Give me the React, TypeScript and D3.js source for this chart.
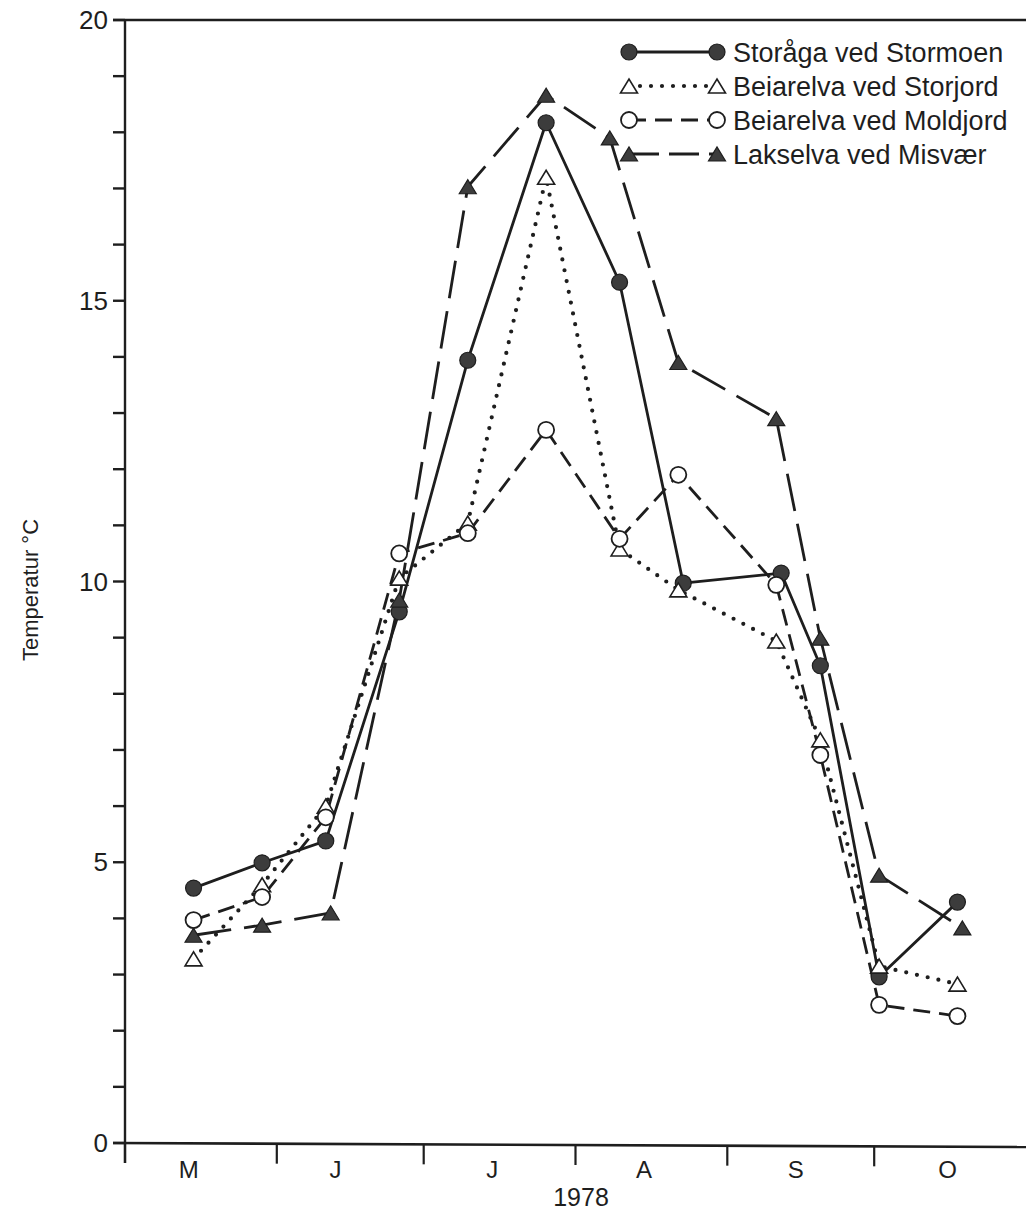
import React from "react";
import * as d3 from "d3";

const W = 1026;
const H = 1226;

const yTicks = d3.range(0, 21, 1);
const yLabels = [0, 5, 10, 15, 20];
const monthBounds = ["1978-05-01", "1978-06-01", "1978-07-01", "1978-08-01", "1978-09-01", "1978-10-01"];
const monthLabels = ["M", "J", "J", "A", "S", "O"];
const monthLabelDates = ["1978-05-14", "1978-06-13", "1978-07-15", "1978-08-15", "1978-09-15", "1978-10-16"];

const storagaDates = ["1978-05-15", "1978-05-29", "1978-06-11", "1978-06-26", "1978-07-10", "1978-07-26", "1978-08-10", "1978-08-23", "1978-09-12", "1978-09-20", "1978-10-02", "1978-10-18"];
const storagaValues = [4.54, 4.99, 5.38, 9.46, 13.94, 18.17, 15.33, 9.97, 10.15, 8.5, 2.96, 4.29];

const storjordDates = ["1978-05-15", "1978-05-29", "1978-06-11", "1978-06-26", "1978-07-10", "1978-07-26", "1978-08-10", "1978-08-22", "1978-09-11", "1978-09-20", "1978-10-02", "1978-10-18"];
const storjordValues = [3.28, 4.6, 6.0, 10.06, 11.04, 17.2, 10.58, 9.85, 8.94, 7.18, 3.15, 2.83];

const moldjordDates = ["1978-05-15", "1978-05-29", "1978-06-11", "1978-06-26", "1978-07-10", "1978-07-26", "1978-08-10", "1978-08-22", "1978-09-11", "1978-09-20", "1978-10-02", "1978-10-18"];
const moldjordValues = [3.97, 4.38, 5.8, 10.5, 10.86, 12.7, 10.76, 11.9, 9.94, 6.91, 2.46, 2.26];

const lakselvaDates = ["1978-05-15", "1978-05-29", "1978-06-12", "1978-06-26", "1978-07-10", "1978-07-26", "1978-08-08", "1978-08-22", "1978-09-11", "1978-09-20", "1978-10-02", "1978-10-19"];
const lakselvaValues = [3.7, 3.88, 4.1, 9.67, 17.03, 18.66, 17.9, 13.9, 12.9, 8.99, 4.77, 3.83];

const seriesNames = ["Storåga ved Stormoen", "Beiarelva ved Storjord", "Beiarelva ved Moldjord", "Lakselva ved Misvær"];

const INK = "#1e1e1e";
const FILL = "#3c3c3c";
const FONT = "'Liberation Sans', Arial, Helvetica, sans-serif";

type Style = { dash: string; width: number; cap: "round" | "butt"; marker: "fcircle" | "otri" | "ocircle" | "ftri" };
const styles: Style[] = [
  { dash: "none", width: 2.8, cap: "butt", marker: "fcircle" },
  { dash: "0 11", width: 4.2, cap: "round", marker: "otri" },
  { dash: "17 9", width: 2.8, cap: "butt", marker: "ocircle" },
  { dash: "38 13", width: 2.8, cap: "butt", marker: "ftri" },
];

const parse = d3.timeParse("%Y-%m-%d");

const x = d3.scaleTime().domain([parse("1978-05-01")!, parse("1978-11-01")!]).range([125, 1026]);
const y = d3.scaleLinear().domain([0, 20]).range([1143, 20]);

function Marker({ kind, cx, cy }: { kind: Style["marker"]; cx: number; cy: number }) {
  if (kind === "fcircle") return <circle cx={cx} cy={cy} r={8} fill={FILL} stroke={INK} strokeWidth={1.2} />;
  if (kind === "ocircle") return <circle cx={cx} cy={cy} r={8} fill="#fff" stroke={INK} strokeWidth={1.8} />;
  const s = 8.5;
  const h = 14;
  const pts = `${cx - s},${cy + h / 2} ${cx + s},${cy + h / 2} ${cx},${cy - h / 2}`;
  if (kind === "otri") return <polygon points={pts} fill="#fff" stroke={INK} strokeWidth={1.6} strokeLinejoin="miter" />;
  return <polygon points={pts} fill={FILL} stroke={INK} strokeWidth={1.2} />;
}

export default function App() {
  const allSeries = [
    { dates: storagaDates, values: storagaValues },
    { dates: storjordDates, values: storjordValues },
    { dates: moldjordDates, values: moldjordValues },
    { dates: lakselvaDates, values: lakselvaValues },
  ];
  const line = d3
    .line<{ d: Date; v: number }>()
    .x((p) => x(p.d))
    .y((p) => y(p.v));

  const legendRows = [52, 86, 120, 154];

  return (
    <svg
      width={W}
      height={H}
      style={{ position: "absolute", left: 0, top: 0, background: "#fff" }}
      fontFamily={FONT}
    >
      <rect x={0} y={0} width={W} height={H} fill="#fff" />
      {/* frame */}
      <line x1={113} x2={W} y1={y(20)} y2={y(20)} stroke={INK} strokeWidth={2.4} />
      <line x1={125} x2={125} y1={y(20)} y2={1163} stroke={INK} strokeWidth={2.4} />
      <line x1={113} x2={W} y1={y(0)} y2={y(0) + 4} stroke={INK} strokeWidth={2.6} />
      {/* y ticks */}
      {yTicks.map((t) => (
        <line key={t} x1={113} x2={125} y1={y(t)} y2={y(t)} stroke={INK} strokeWidth={2.4} />
      ))}
      {yLabels.map((t) => (
        <text key={t} x={108} y={y(t) + 9} textAnchor="end" fontSize={26} fill={INK}>
          {t}
        </text>
      ))}
      <text
        transform={`translate(38,590) rotate(-90)`}
        textAnchor="middle"
        fontSize={22}
        fill={INK}
      >
        Temperatur °C
      </text>
      {/* x ticks */}
      {monthBounds.map((m) => {
        const xx = x(parse(m)!);
        const yy = y(0) + (4 * (xx - 125)) / (W - 125);
        return <line key={m} x1={xx} x2={xx} y1={yy} y2={yy + 20} stroke={INK} strokeWidth={2.2} />;
      })}
      {monthLabels.map((lab, i) => (
        <text key={i} x={x(parse(monthLabelDates[i])!)} y={1178} textAnchor="middle" fontSize={24} fill={INK}>
          {lab}
        </text>
      ))}
      <text x={581} y={1206} textAnchor="middle" fontSize={25} fill={INK}>
        1978
      </text>
      {/* series lines */}
      {allSeries.map((s, i) => {
        const pts = s.dates.map((d, j) => ({ d: parse(d)!, v: s.values[j] }));
        const st = styles[i];
        return (
          <path
            key={"l" + i}
            d={line(pts) || ""}
            fill="none"
            stroke={INK}
            strokeWidth={st.width}
            strokeDasharray={st.dash}
            strokeLinecap={st.cap}
            strokeLinejoin="round"
          />
        );
      })}
      {allSeries.map((s, i) =>
        s.dates.map((d, j) => (
          <Marker key={`m${i}-${j}`} kind={styles[i].marker} cx={x(parse(d)!)} cy={y(s.values[j])} />
        ))
      )}
      {/* legend */}
      {seriesNames.map((name, i) => {
        const ry = legendRows[i];
        const st = styles[i];
        return (
          <g key={name}>
            <line
              x1={629}
              x2={717}
              y1={ry}
              y2={ry}
              stroke={INK}
              strokeWidth={st.width}
              strokeDasharray={st.dash === "none" ? "none" : i === 3 ? "30 10" : st.dash}
              strokeLinecap={st.cap}
            />
            <Marker kind={st.marker} cx={629} cy={ry} />
            <Marker kind={st.marker} cx={717} cy={ry} />
            <text x={733} y={ry + 9.5} fontSize={27} fill={INK}>
              {name}
            </text>
          </g>
        );
      })}
    </svg>
  );
}
